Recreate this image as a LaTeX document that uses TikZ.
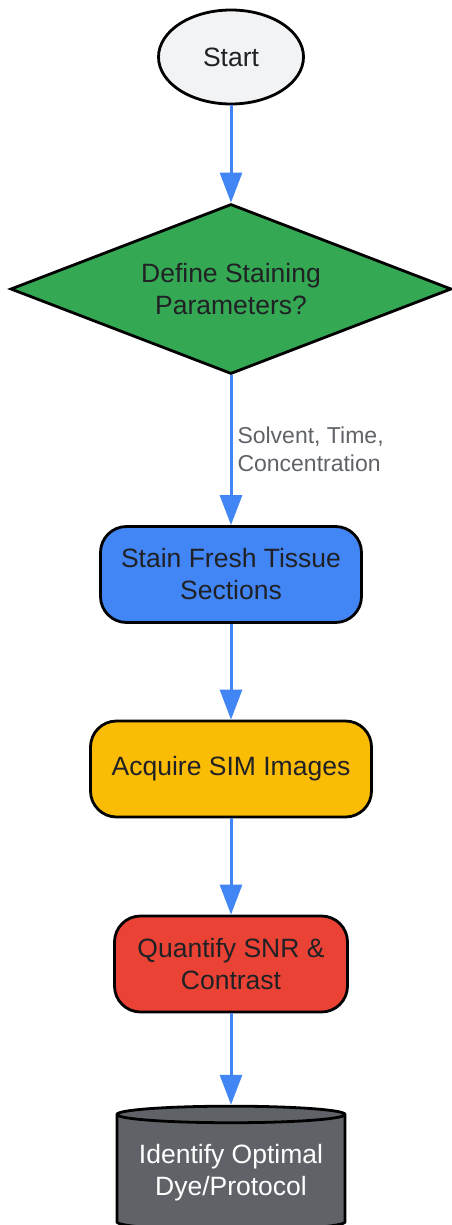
\documentclass[tikz,border=0pt]{standalone}
\usepackage{fontspec}
\setmainfont{Liberation Sans}
\usetikzlibrary{shapes.geometric,arrows.meta}
\definecolor{arrowblue}{HTML}{4285F4}
\definecolor{darktext}{HTML}{202124}
\definecolor{labelgray}{HTML}{5F6368}
\definecolor{startgray}{HTML}{F1F3F4}
\definecolor{stepgreen}{HTML}{34A853}
\definecolor{stepblue}{HTML}{4285F4}
\definecolor{stepyellow}{HTML}{FBBC05}
\definecolor{stepred}{HTML}{EA4335}
\definecolor{stepgray}{HTML}{5F6368}
\begin{document}
\begin{tikzpicture}[x=1pt, y=-1pt, font=\fontsize{26.5}{32}\selectfont,
    base/.style={draw=black, line width=2.8pt, text=darktext, align=center, inner sep=0pt},
    terminal/.style={base, ellipse, fill=startgray, minimum width=145pt, minimum height=94pt},
    decision/.style={base, diamond, aspect=2.6, fill=stepgreen, minimum width=441pt, minimum height=170pt},
    process/.style={base, rectangle, rounded corners=26pt, minimum height=96pt},
    store/.style={base, cylinder, shape border rotate=90, aspect=0.09, fill=stepgray, text=white, minimum width=228pt, minimum height=124pt},
    flow/.style={draw=arrowblue, line width=3pt, -{Triangle[length=30pt, width=22pt]}}]
      \useasboundingbox (0, 0) rectangle (451, 1225);
      \node[terminal] (1) at (231, 57) {Start};
      \node[decision] (2) at (231, 289) {Define Staining\\Parameters?};
      \node[process, fill=stepblue, minimum width=261pt] (3) at (231, 574.5) {Stain Fresh Tissue\\Sections};
      \node[process, fill=stepyellow, minimum width=281pt] (4) at (231, 769) {Acquire SIM Images};
      \node[process, fill=stepred, minimum width=233pt] (5) at (231, 964) {Quantify SNR \&\\Contrast};
      \node[store] (6) at (231, 1173) {Identify Optimal\\Dye/Protocol};

      \draw[flow] (1) -- (2);
      \draw[flow] (2) -- (3) node [midway, right, align=left, text=labelgray, inner sep=5pt, yshift=1pt, font=\fontsize{23}{28}\selectfont] (a) {Solvent, Time,\\Concentration};
      \draw[flow] (3) -- (4);
      \draw[flow] (4) -- (5);
      \draw[flow] (5) -- (6);
    \end{tikzpicture}
\end{document}
